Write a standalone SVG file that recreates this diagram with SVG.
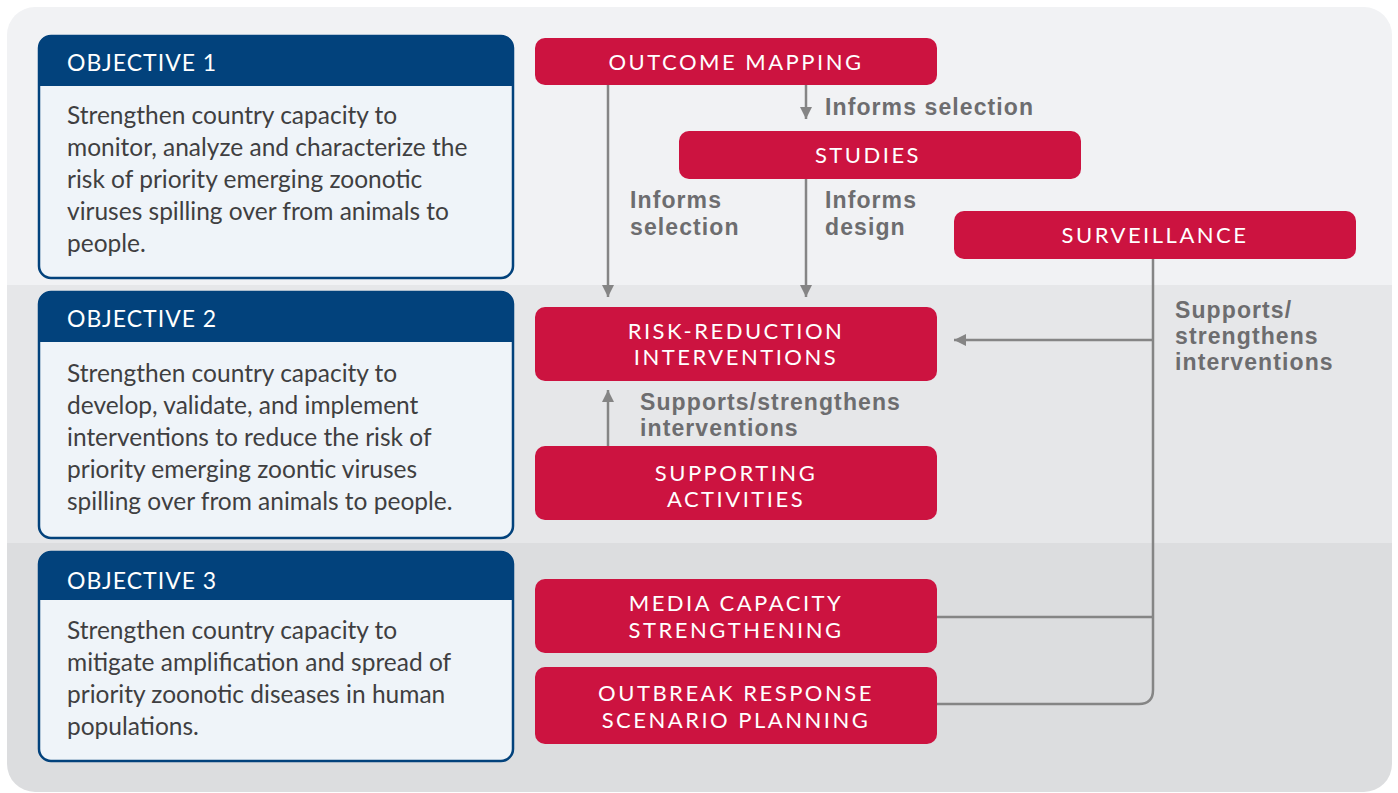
<svg xmlns="http://www.w3.org/2000/svg" width="1398" height="793" viewBox="0 0 1398 793">
<style>
.hdr{font-family:Lato,"Liberation Sans",sans-serif;font-size:23px;fill:#fff;letter-spacing:1px}
.body{font-family:Lato,"Liberation Sans",sans-serif;font-size:24.5px;fill:#3f3f41}
.rt{font-family:Lato,"Liberation Sans",sans-serif;font-size:22px;fill:#fff;letter-spacing:2.5px;text-anchor:middle}
.lbl{font-family:"Liberation Sans",Arial,sans-serif;font-weight:bold;font-size:23px;fill:#6d6d6f;letter-spacing:1.1px}
.box{fill:#eff4f9;stroke:#02427c;stroke-width:2.5}
.hd{fill:#02427c}
.red{fill:#cc1340}
.ln{fill:none;stroke:#858585;stroke-width:2.5}
</style>
<defs>
<clipPath id="bg"><rect x="7" y="7" width="1385" height="785" rx="28"/></clipPath>
<marker id="ahb" viewBox="0 0 12 12" refX="12" refY="6" markerWidth="12" markerHeight="12" markerUnits="userSpaceOnUse" orient="auto"><path d="M0,0 L12,6 L0,12 z" fill="#858585"/></marker>
</defs>
<g id="background" clip-path="url(#bg)">
<rect x="0" y="0" width="1398" height="285" fill="#f1f2f4"/>
<rect x="0" y="285" width="1398" height="258" fill="#e6e7e9"/>
<rect x="0" y="543" width="1398" height="250" fill="#dcdddf"/>
</g>
<g id="connectors">
<line class="ln" x1="608" y1="85" x2="608" y2="297" marker-end="url(#ahb)"/>
<line class="ln" x1="806" y1="85" x2="806" y2="119" marker-end="url(#ahb)"/>
<line class="ln" x1="806" y1="179" x2="806" y2="297" marker-end="url(#ahb)"/>
<line class="ln" x1="608" y1="446" x2="608" y2="390" marker-end="url(#ahb)"/>
<path class="ln" d="M1153,259 V690 Q1153,704 1139,704 H937"/>
<line class="ln" x1="937" y1="617" x2="1153" y2="617"/>
<line class="ln" x1="1153" y1="340" x2="954" y2="340" marker-end="url(#ahb)"/>
<text class="lbl" x="825" y="115">Informs selection</text>
<text class="lbl" x="630" y="208">Informs</text>
<text class="lbl" x="630" y="235">selection</text>
<text class="lbl" x="825" y="208">Informs</text>
<text class="lbl" x="825" y="235">design</text>
<text class="lbl" x="1175" y="318">Supports/</text>
<text class="lbl" x="1175" y="344">strengthens</text>
<text class="lbl" x="1175" y="370">interventions</text>
<text class="lbl" x="640" y="410">Supports/strengthens</text>
<text class="lbl" x="640" y="436">interventions</text>
</g>
<g id="objective1">
<rect class="box" x="39" y="36" width="474" height="242" rx="12"/>
<path class="hd" d="M39,86 V48 Q39,36 51,36 H501 Q513,36 513,48 V86 z"/>
<text class="hdr" x="67" y="71">OBJECTIVE 1</text>
<text class="body" x="67" y="124">Strengthen country capacity to</text>
<text class="body" x="67" y="156">monitor, analyze and characterize the</text>
<text class="body" x="67" y="188">risk of priority emerging zoonotic</text>
<text class="body" x="67" y="220">viruses spilling over from animals to</text>
<text class="body" x="67" y="252">people.</text>
</g>
<g id="objective2">
<rect class="box" x="39" y="292" width="474" height="246" rx="12"/>
<path class="hd" d="M39,342 V304 Q39,292 51,292 H501 Q513,292 513,304 V342 z"/>
<text class="hdr" x="67" y="327">OBJECTIVE 2</text>
<text class="body" x="67" y="382">Strengthen country capacity to</text>
<text class="body" x="67" y="414">develop, validate, and implement</text>
<text class="body" x="67" y="446">interventions to reduce the risk of</text>
<text class="body" x="67" y="478">priority emerging zoontic viruses</text>
<text class="body" x="67" y="510">spilling over from animals to people.</text>
</g>
<g id="objective3">
<rect class="box" x="39" y="552" width="474" height="209" rx="12"/>
<path class="hd" d="M39,600 V564 Q39,552 51,552 H501 Q513,552 513,564 V600 z"/>
<text class="hdr" x="67" y="589">OBJECTIVE 3</text>
<text class="body" x="67" y="639">Strengthen country capacity to</text>
<text class="body" x="67" y="671">mitigate amplification and spread of</text>
<text class="body" x="67" y="703">priority zoonotic diseases in human</text>
<text class="body" x="67" y="735">populations.</text>
</g>
<g id="outcome-mapping">
<rect class="red" x="535" y="38" width="402" height="47" rx="10"/>
<text class="rt" x="736" y="70">OUTCOME MAPPING</text>
</g>
<g id="studies">
<rect class="red" x="679" y="131" width="402" height="48" rx="10"/>
<text class="rt" x="868" y="163">STUDIES</text>
</g>
<g id="surveillance">
<rect class="red" x="954" y="211" width="402" height="48" rx="10"/>
<text class="rt" x="1155" y="243">SURVEILLANCE</text>
</g>
<g id="risk-reduction">
<rect class="red" x="535" y="307" width="402" height="74" rx="10"/>
<text class="rt" x="736" y="339">RISK-REDUCTION</text>
<text class="rt" x="736" y="365">INTERVENTIONS</text>
</g>
<g id="supporting">
<rect class="red" x="535" y="446" width="402" height="74" rx="10"/>
<text class="rt" x="736" y="481">SUPPORTING</text>
<text class="rt" x="736" y="507">ACTIVITIES</text>
</g>
<g id="media">
<rect class="red" x="535" y="579" width="402" height="74" rx="10"/>
<text class="rt" x="736" y="611">MEDIA CAPACITY</text>
<text class="rt" x="736" y="638">STRENGTHENING</text>
</g>
<g id="outbreak">
<rect class="red" x="535" y="667" width="402" height="77" rx="10"/>
<text class="rt" x="736" y="701">OUTBREAK RESPONSE</text>
<text class="rt" x="736" y="728">SCENARIO PLANNING</text>
</g>
</svg>
